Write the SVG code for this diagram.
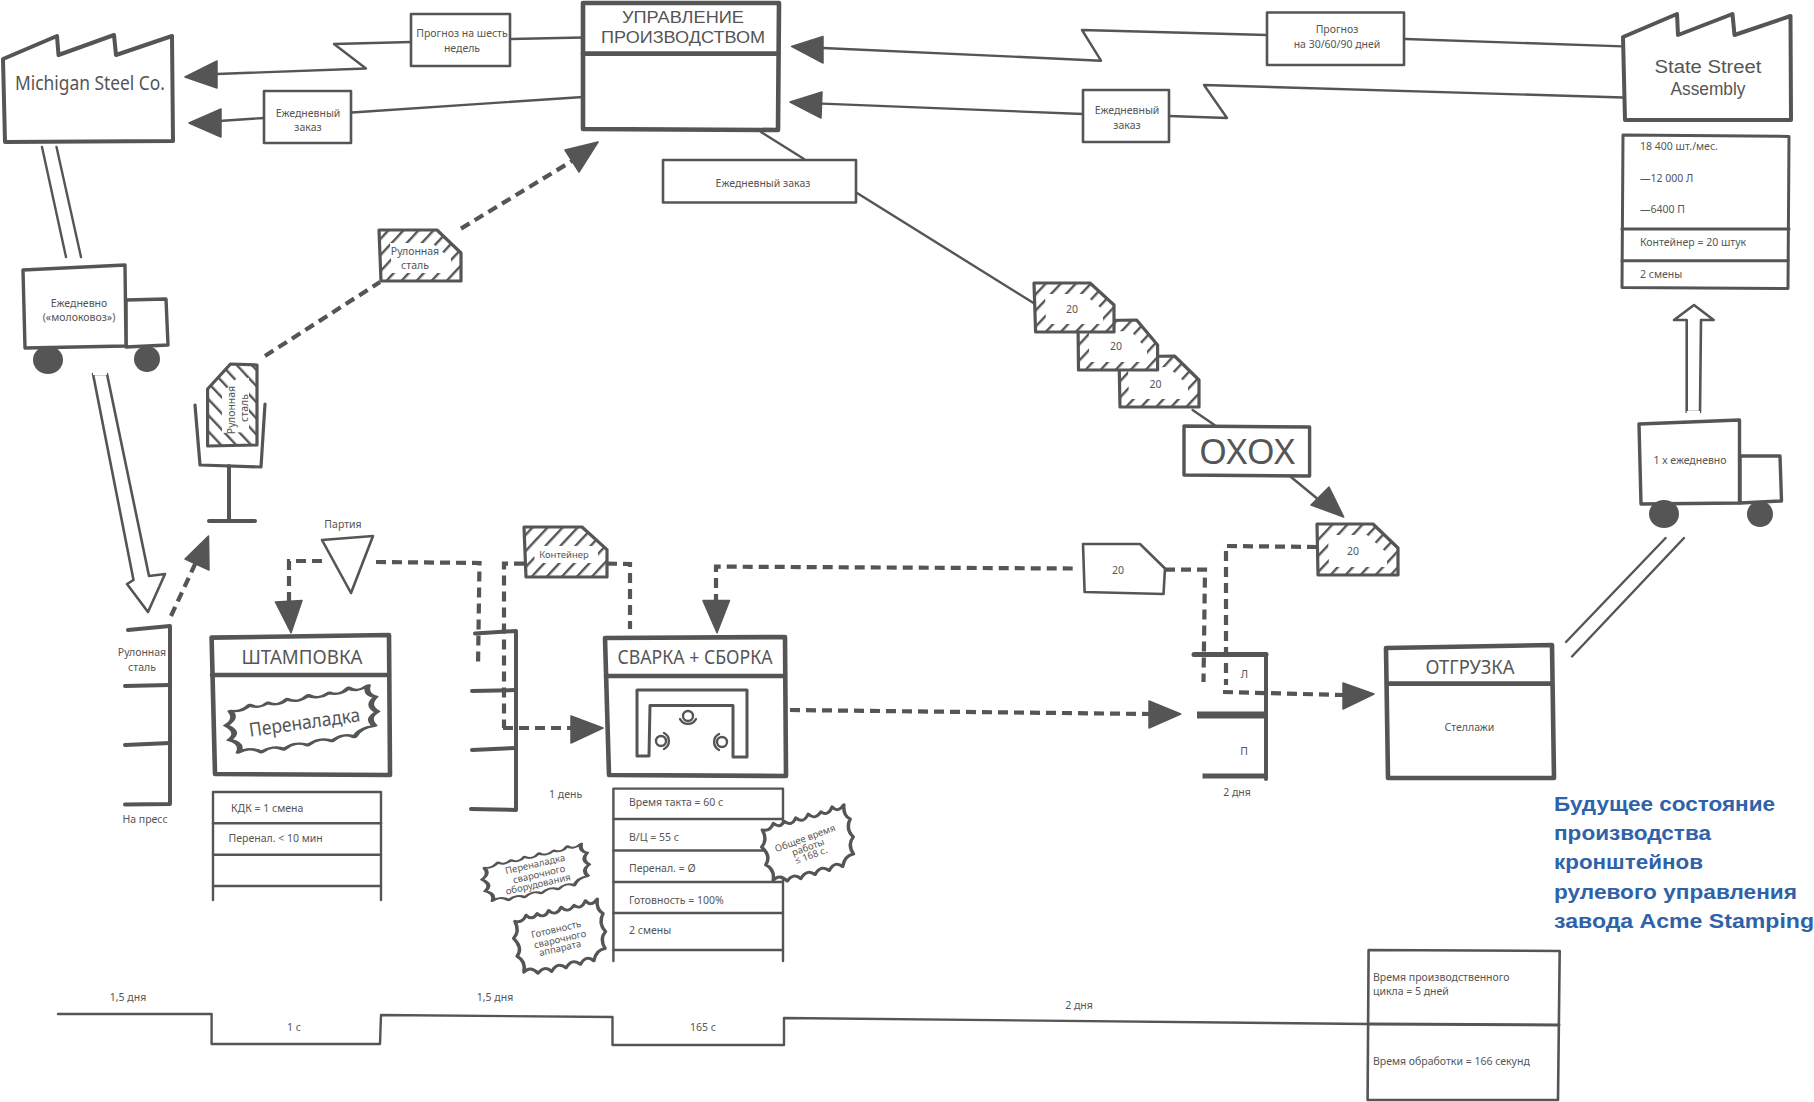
<svg xmlns="http://www.w3.org/2000/svg" xmlns:xlink="http://www.w3.org/1999/xlink" width="1814" height="1102" viewBox="0 0 1814 1102">
<style>
text{font-family:"Noto Sans","Open Sans","DejaVu Sans",sans-serif;fill:#555;font-size:10.5px;text-anchor:middle;dominant-baseline:central}
.l{text-anchor:start}
.s{font-size:9.5px}
.t{font-size:20px}
.t2{font-family:"Liberation Sans",Arial,sans-serif;font-size:17px}
.t3{font-family:"Liberation Sans",Arial,sans-serif;font-size:18px}
.title{font-family:"Liberation Sans",Arial,sans-serif;font-weight:bold;fill:#2f62a8;font-size:20px;text-anchor:start}
.o{fill:none;stroke:#555;stroke-width:2.4;stroke-linejoin:round;stroke-linecap:round}
.m{fill:#fff;stroke:#555;stroke-width:2.6;stroke-linejoin:round}
.b{fill:#fff;stroke:#555;stroke-width:4;stroke-linejoin:round;stroke-linecap:round}
.bo{fill:none;stroke:#555;stroke-width:4;stroke-linejoin:round;stroke-linecap:round}
.h{fill:url(#hatch);stroke:#555;stroke-width:3.2;stroke-linejoin:round}
.h2{fill:url(#hatch2);stroke:#555;stroke-width:3.2;stroke-linejoin:round}
.hi{fill:#fff}
.d{fill:none;stroke:#555;stroke-width:4.2;stroke-dasharray:10 6}
.a{fill:#555;stroke:#555;stroke-width:1.5;stroke-linejoin:round}
.w{fill:#555}
.burst{fill:#fff;stroke:#555;stroke-width:3.8;stroke-linejoin:round;vector-effect:non-scaling-stroke}
</style>
<defs>
<pattern id="hatch" width="11" height="11" patternUnits="userSpaceOnUse" patternTransform="rotate(43)">
<rect width="11" height="11" fill="#fff"/>
<rect x="0" y="0" width="2.4" height="11" fill="#555"/>
</pattern>
<pattern id="hatch2" width="11" height="11" patternUnits="userSpaceOnUse" patternTransform="rotate(-43)">
<rect width="11" height="11" fill="#fff"/>
<rect x="0" y="0" width="2.4" height="11" fill="#555"/>
</pattern>
<path id="burstShape" d="M-46,-30 Q-38,-26 -33,-36 Q-27,-27 -21,-36 Q-14,-27 -8,-38 Q-1,-28 6,-40 Q12,-30 20,-40 Q27,-32 33,-44 Q38,-34 46,-44 Q43,-30 50,-24 Q43,-12 50,0 Q42,8 47,22 Q37,22 33,36 Q26,26 18,38 Q10,28 2,40 Q-6,30 -14,42 Q-21,32 -29,42 Q-36,30 -44,38 Q-40,24 -49,16 Q-41,6 -50,-8 Q-42,-16 -46,-30 Z"/>
</defs>
<rect width="1814" height="1102" fill="#fff"/>

<g id="connectors">
<polyline class="o" points="511,39 583,37.5"/>
<polyline class="o" points="411,42 334,44 366,68.5 217,74"/>
<polygon class="a" points="185,77 217,61 217,88"/>
<polyline class="o" points="352,112.5 583,97"/>
<polyline class="o" points="264,118 219,121"/>
<polygon class="a" points="189,123 221,109 221,137"/>
<polyline class="o" points="823,48 1101,60.7 1082,30 1267,35"/>
<polyline class="o" points="1405.5,39 1623,46.4"/>
<polygon class="a" points="791.5,46.4 823,36.4 823,63"/>
<polyline class="o" points="822,103.6 1083,114"/>
<polyline class="o" points="1169,116 1227,118 1204,85 1623,97.5"/>
<polygon class="a" points="790,102 822,92 821,118"/>
<polyline class="o" points="761,132 804,159"/>
<polyline class="o" points="857,193 1033.5,303"/>
<polyline class="o" points="1192.6,410 1214.5,425"/>
<polyline class="o" points="1291,477 1325,505"/>
<polygon class="a" points="1343.7,517 1329,487 1311,505"/>
<line class="o" x1="42" y1="147" x2="66" y2="257"/>
<line class="o" x1="56.5" y1="147" x2="81" y2="257"/>
<polygon class="m" points="93,374 133.5,580 127,584 148,612 165,574 149,576 107,374"/>
<line x1="93" y1="373" x2="107" y2="373" stroke="#fff" stroke-width="4"/>
<polygon class="m" points="1686.7,412 1686.7,320 1674,320 1694,305 1713.7,320 1701,320 1700,412"/>
<line x1="1686.7" y1="413" x2="1700" y2="413" stroke="#fff" stroke-width="4"/>
<line class="o" x1="1566" y1="642" x2="1665.6" y2="538"/>
<line class="o" x1="1572" y1="656.5" x2="1684" y2="538"/>
<line class="d" x1="171" y1="616" x2="197" y2="560"/>
<polygon class="a" points="208.5,536 185,559 209,570"/>
<line class="d" x1="265" y1="356" x2="380" y2="282"/>
<line class="d" x1="461" y1="228.6" x2="572" y2="161"/>
<polygon class="a" points="598,142 565,150 579,172"/>
<polyline class="d" points="322,561 289,561 289,604"/>
<polygon class="a" points="291,632.7 275.4,602 302,600.6"/>
<polyline class="d" points="376,562 479.5,563 478,667"/>
<polyline class="d" points="524,563.6 504,563.6 504,728"/>
<line class="d" x1="503" y1="728" x2="572" y2="728"/>
<polygon class="a" points="603,728 571,716 571,743"/>
<polyline class="d" points="607,563.6 630,564 630,629"/>
<polyline class="d" points="1072.7,568.5 716,566.6 716,602"/>
<polygon class="a" points="717,632.7 703,600.6 729.5,600.6"/>
<line class="d" x1="790" y1="710" x2="1150" y2="714"/>
<polygon class="a" points="1180.7,714 1149,701 1149,728"/>
<polyline class="d" points="1165,569.6 1205,569.6 1203.5,682"/>
<polyline class="d" points="1317,547 1226,546 1226,685"/>
<line class="d" x1="1223" y1="692" x2="1344" y2="695"/>
<polygon class="a" points="1374,694 1343,683 1343,709"/>
<polyline class="o" points="58,1014 211.6,1014 211.6,1044 380,1044 381,1015 612.5,1017 612.5,1045 784,1045 784,1018 1368,1024"/>
</g>

<g id="michigan-steel">
<polygon class="b" points="3,59 57,36 58.5,55 114,35 116,55 172,36 173,141 5,142"/>
<text x="90" y="83" style="font-size:19px" textLength="150" lengthAdjust="spacingAndGlyphs">Michigan Steel Co.</text>
</g>
<g id="state-street">
<polygon class="b" points="1623,37 1677,14 1678,35 1732.5,14 1734.5,35 1790.5,16 1791,120 1625,120"/>
<text x="1708" y="66.5" class="t3" textLength="107" lengthAdjust="spacingAndGlyphs">State Street</text>
<text x="1708" y="88.6" class="t3" textLength="75" lengthAdjust="spacingAndGlyphs">Assembly</text>
</g>
<g id="customer-data">
<polygon class="m" points="1623,135 1789,136.4 1788,288.6 1622,287.5" style="stroke-width:3"/>
<line class="o" x1="1622" y1="229" x2="1789" y2="229" style="stroke-width:3.2"/>
<line class="o" x1="1622" y1="260.7" x2="1788" y2="260.7" style="stroke-width:3"/>
<text x="1640" y="146.4" class="l">18 400 шт./мес.</text>
<text x="1640" y="178" class="l">—12 000 Л</text>
<text x="1640" y="209" class="l">—6400 П</text>
<text x="1640" y="242" class="l">Контейнер = 20 штук</text>
<text x="1640" y="273.5" class="l">2 смены</text>
</g>
<g id="production-control">
<polygon class="b" points="583,3 779,3 778,130 583,129" style="stroke-width:4.6"/>
<line class="bo" x1="583" y1="53.6" x2="778" y2="53.6" style="stroke-width:4.6"/>
<text x="683" y="17.5" class="t2" textLength="122" lengthAdjust="spacingAndGlyphs">УПРАВЛЕНИЕ</text>
<text x="683" y="37.5" class="t2" textLength="164" lengthAdjust="spacingAndGlyphs">ПРОИЗВОДСТВОМ</text>
</g>
<g id="forecast-6w"><rect class="m" x="411" y="14" width="99" height="52"/><text x="462" y="33">Прогноз на шесть</text><text x="462" y="47.5">недель</text></g>
<g id="order-daily-supplier"><rect class="m" x="264" y="91" width="87" height="52"/><text x="308" y="112.5">Ежедневный</text><text x="308" y="126.5">заказ</text></g>
<g id="forecast-30"><rect class="m" x="1267" y="12.5" width="137" height="52.5"/><text x="1337" y="29">Прогноз</text><text x="1337" y="43.6">на 30/60/90 дней</text></g>
<g id="order-daily-customer"><rect class="m" x="1083" y="90" width="86" height="52"/><text x="1127" y="110">Ежедневный</text><text x="1127" y="124.6">заказ</text></g>
<g id="order-daily-center"><rect class="m" x="663" y="160" width="193" height="42.5"/><text x="763" y="183">Ежедневный заказ</text></g>

<g id="truck-supplier">
<polygon class="b" points="126,300 166,299 168,345 126,347" style="stroke-width:3.4"/>
<polygon class="b" points="23,270 125,265 126,346 25,348" style="stroke-width:3.4"/>
<ellipse class="w" cx="48" cy="360" rx="15" ry="14"/><circle class="w" cx="147" cy="359" r="13"/>
<text x="79" y="303">Ежедневно</text><text x="79" y="317">(«молоковоз»)</text>
</g>
<g id="truck-customer">
<polygon class="b" points="1740,456 1780,456 1781.5,501 1740,503" style="stroke-width:3.4"/>
<polygon class="b" points="1639,424 1739.5,420 1739.5,503 1641,504" style="stroke-width:3.4"/>
<ellipse class="w" cx="1664" cy="514" rx="15" ry="14"/><circle class="w" cx="1760" cy="514" r="13"/>
<text x="1690" y="460">1 х ежедневно</text>
</g>

<g id="kanban-coil-post">
<polyline class="bo" points="195,405 200,465 261,467 265,404" style="stroke-width:3.2"/>
<line class="bo" x1="229" y1="466" x2="229" y2="521"/>
<line class="bo" x1="209" y1="521" x2="255" y2="521"/>
<polygon class="h2" points="207.6,389 230.5,364 257,365 257,445 207.6,446"/>
<polygon class="hi" points="222,393 237,378 249,378 249,432 222,433"/>
<text transform="translate(230.5,410) rotate(-90)">Рулонная</text>
<text transform="translate(244,408) rotate(-90)">сталь</text>
</g>
<g id="kanban-coil">
<polygon class="h" points="379,230 437,230 461,253 461,281 381,281"/>
<polygon class="hi" points="390,243 432,243 451,259 451,273 392,273"/>
<text x="415" y="251">Рулонная</text><text x="415" y="265">сталь</text>
</g>
<g id="supermarket-coil">
<polyline class="bo" points="128,630 170,626 170,804 125,804.5"/>
<line class="bo" x1="125" y1="686" x2="170" y2="685"/>
<line class="bo" x1="125" y1="745" x2="170" y2="743"/>
<text x="142" y="652">Рулонная</text><text x="142" y="667">сталь</text>
<text x="145" y="819">На пресс</text>
</g>
<g id="batch"><polygon class="m" points="322,540 373,536 351,593"/><text x="343" y="524">Партия</text></g>
<g id="kanban-container"><polygon class="h" points="524,527 582,527 607,549.6 607,577 526,577"/><polygon class="hi" points="533,546 592,546 598,552 598,563 535,563"/><text x="564" y="554" class="s">Контейнер</text></g>
<g id="supermarket-mid">
<polyline class="bo" points="475,633.4 516,631 516,810 471,809"/>
<line class="bo" x1="472" y1="691" x2="516" y2="690"/>
<line class="bo" x1="472" y1="750" x2="516" y2="748"/>
<text x="565.6" y="794">1 день</text>
</g>

<g id="kanban-20-c"><polygon class="h" points="1119,357 1174.5,356 1199,380 1199,407 1120,407"/><polygon class="hi" points="1128,368 1168,367 1188,385 1188,399 1129,399"/><text x="1155.5" y="384">20</text></g>
<g id="kanban-20-b"><polygon class="h" points="1078,321 1136.6,320 1157.6,345 1157.6,370 1078.5,370"/><polygon class="hi" points="1089,332 1131,331 1147,350 1147,362 1089,362"/><text x="1116" y="346">20</text></g>
<g id="kanban-20-a"><polygon class="h" points="1034,283 1090,283 1114,305 1114,332 1035.6,332"/><polygon class="hi" points="1045,294 1084,294 1103,310 1103,324 1046,324"/><text x="1072" y="309">20</text></g>
<g id="load-leveling"><polygon class="m" points="1184,426 1309.6,427 1309.6,476 1184,475" style="stroke-width:3.4"/><text x="1247" y="451" style="font-size:34px" textLength="96" lengthAdjust="spacingAndGlyphs">OXOX</text></g>
<g id="kanban-20-d"><polygon class="h" points="1317,524 1373,524 1398,548 1398,575 1318,575"/><polygon class="hi" points="1328,535 1367,535 1387,553 1387,567 1329,567"/><text x="1353" y="551">20</text></g>
<g id="kanban-20-e"><polygon class="m" points="1083,544 1140,544 1165,568.5 1163.5,594 1084.6,592"/><text x="1118" y="570">20</text></g>
<g id="supermarket-finished">
<polyline class="bo" points="1266,654 1266,779"/>
<line class="bo" x1="1194" y1="654.6" x2="1266" y2="654.6" style="stroke-width:5"/>
<line class="bo" x1="1197" y1="715" x2="1266" y2="715" style="stroke-width:7;stroke-linecap:butt"/>
<line class="bo" x1="1202.5" y1="776" x2="1266" y2="776" style="stroke-width:5;stroke-linecap:butt"/>
<text x="1244.5" y="673.5">Л</text><text x="1244" y="751">П</text><text x="1237" y="792">2 дня</text>
</g>

<g id="stamping">
<polygon class="b" points="211.6,637.6 389,635 390,775 215,774" style="stroke-width:4.6"/>
<line class="bo" x1="212" y1="675" x2="389" y2="675" style="stroke-width:4.6"/>
<text x="302" y="656" class="t" textLength="121" lengthAdjust="spacingAndGlyphs">ШТАМПОВКА</text>
<use xlink:href="#burstShape" href="#burstShape" class="burst" transform="translate(302,721) rotate(-7) scale(1.52,0.62)"/>
<text transform="translate(304.5,722) rotate(-8)" style="font-size:19px" textLength="112" lengthAdjust="spacingAndGlyphs">Переналадка</text>
</g>
<g id="stamping-data">
<polyline class="o" points="213,900 213,792 381,792 381,900"/>
<line class="o" x1="213" y1="823.3" x2="381" y2="823.3"/><line class="o" x1="213" y1="854.7" x2="381" y2="854.7"/><line class="o" x1="213" y1="886" x2="381" y2="886"/>
<text x="231" y="808" class="l">КДК = 1 смена</text>
<text x="228.6" y="838.4" class="l">Перенал. &lt; 10 мин</text>
</g>
<g id="welding">
<polygon class="b" points="605,638 785,637 786,776 609,775" style="stroke-width:4.6"/>
<line class="bo" x1="606" y1="676" x2="785" y2="676" style="stroke-width:4.6"/>
<text x="695" y="656.5" class="t" textLength="155" lengthAdjust="spacingAndGlyphs">СВАРКА + СБОРКА</text>
<polygon class="m" points="637,756 637,690 747,690 747,757 733,757 733,705.5 650,705.5 649,756" style="stroke-width:3"/>
<circle class="o" cx="688" cy="716" r="5"/><path class="o" d="M680,719 A9,9 0 0 0 696,719"/>
<circle class="o" cx="661" cy="741" r="5"/><path class="o" d="M664,733 A9,9 0 0 1 664,749"/>
<circle class="o" cx="722" cy="742" r="5"/><path class="o" d="M719,734 A9,9 0 0 0 719,750"/>
</g>
<g id="welding-data">
<polyline class="o" points="613.4,961 613.4,788.6 783,788.6 783,961"/>
<line class="o" x1="613.4" y1="819" x2="783" y2="819"/><line class="o" x1="613.4" y1="850.5" x2="783" y2="850.5"/><line class="o" x1="613.4" y1="882" x2="783" y2="882"/><line class="o" x1="613.4" y1="913" x2="783" y2="913"/><line class="o" x1="613.4" y1="950" x2="783" y2="950"/>
<text x="629" y="802" class="l">Время такта = 60 с</text>
<text x="629" y="837" class="l">В/Ц = 55 с</text>
<text x="629" y="867.5" class="l">Перенал. = Ø</text>
<text x="629" y="899.6" class="l">Готовность = 100%</text>
<text x="629" y="930" class="l">2 смены</text>
</g>
<g id="burst-cycle">
<use xlink:href="#burstShape" href="#burstShape" class="burst" transform="translate(808,845) rotate(-10) scale(0.92,0.76)"/>
<text transform="translate(805,838) rotate(-20)" class="s">Общее время</text>
<text transform="translate(808,847) rotate(-20)" class="s">работы</text>
<text transform="translate(811,855) rotate(-20)" class="s">≤ 168 с.</text>
</g>
<g id="burst-changeover">
<use xlink:href="#burstShape" href="#burstShape" class="burst" transform="translate(536,874) rotate(-10) scale(1.08,0.5)"/>
<text transform="translate(535,864) rotate(-13)" class="s">Переналадка</text>
<text transform="translate(539,874) rotate(-13)" class="s">сварочного</text>
<text transform="translate(538,884) rotate(-13)" class="s">оборудования</text>
</g>
<g id="burst-availability">
<use xlink:href="#burstShape" href="#burstShape" class="burst" transform="translate(560,938) rotate(-8) scale(0.92,0.76)"/>
<text transform="translate(556,929) rotate(-13)" class="s">Готовность</text>
<text transform="translate(560,939) rotate(-13)" class="s">сварочного</text>
<text transform="translate(560,948) rotate(-13)" class="s">аппарата</text>
</g>
<g id="shipping">
<polygon class="b" points="1386,648 1552,645 1554,778 1388,778" style="stroke-width:4.6"/>
<line class="bo" x1="1387" y1="683.6" x2="1552" y2="683.6" style="stroke-width:4.6"/>
<text x="1470" y="666" class="t" textLength="89" lengthAdjust="spacingAndGlyphs">ОТГРУЗКА</text>
<text x="1469.4" y="727">Стеллажи</text>
</g>
<g id="summary">
<polygon class="m" points="1368.6,950 1559.7,951 1558,1100 1367.6,1100"/>
<line class="o" x1="1368" y1="1024" x2="1559" y2="1025" style="stroke-width:3"/>
<text x="1373" y="976.6" class="l">Время производственного</text>
<text x="1373" y="990.6" class="l">цикла = 5 дней</text>
<text x="1373" y="1061" class="l">Время обработки = 166 секунд</text>
</g>
<g id="timeline-labels">
<text x="128" y="997">1,5 дня</text><text x="294" y="1027">1 с</text><text x="495" y="997">1,5 дня</text><text x="703" y="1027">165 с</text><text x="1079" y="1004.5">2 дня</text>
</g>
<g id="title">
<text class="title" x="1554" y="804" textLength="221" lengthAdjust="spacingAndGlyphs">Будущее состояние</text>
<text class="title" x="1554" y="833" textLength="157" lengthAdjust="spacingAndGlyphs">производства</text>
<text class="title" x="1554" y="862" textLength="149" lengthAdjust="spacingAndGlyphs">кронштейнов</text>
<text class="title" x="1554" y="892" textLength="243" lengthAdjust="spacingAndGlyphs">рулевого управления</text>
<text class="title" x="1554" y="921" textLength="260" lengthAdjust="spacingAndGlyphs">завода Acme Stamping</text>
</g>
</svg>
